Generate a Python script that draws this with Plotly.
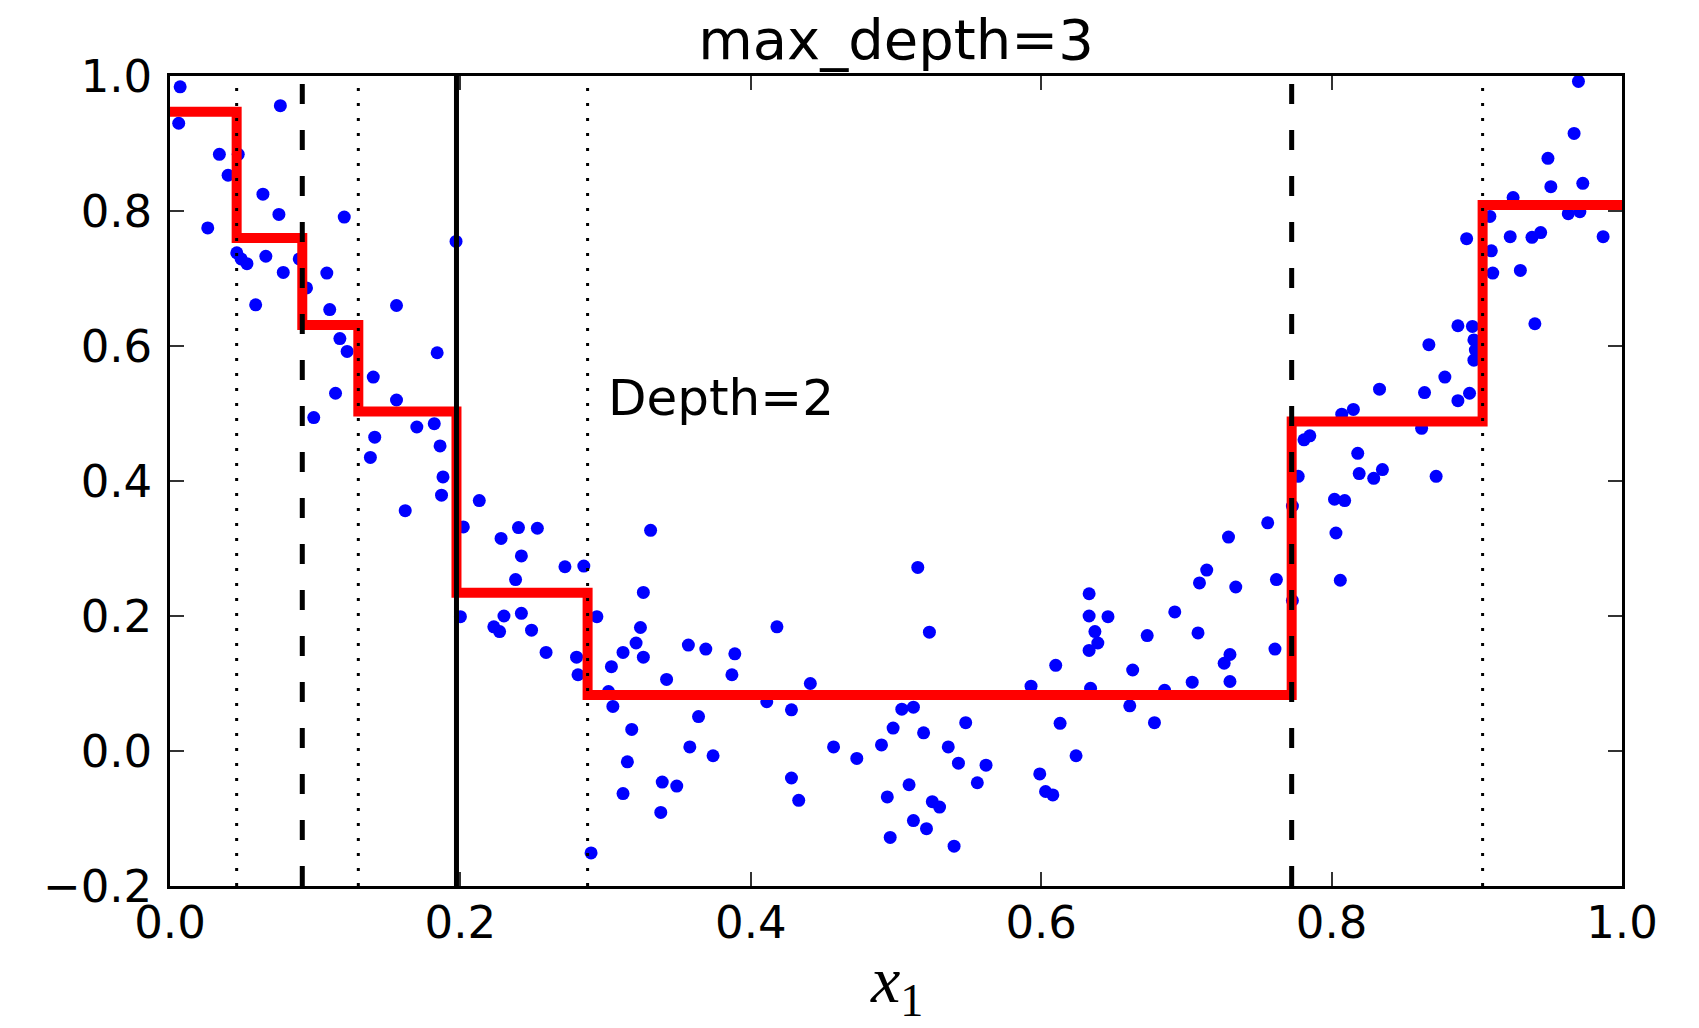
import plotly.graph_objects as go

# ---- data ----
x_pts = [0.007, 0.006, 0.076, 0.034, 0.047, 0.040, 0.064, 0.075, 0.120, 0.026, 0.197, 0.046, 0.049, 0.053,
         0.066, 0.078, 0.089, 0.108, 0.094, 0.059, 0.110, 0.156, 0.117, 0.122, 0.184, 0.140, 0.114, 0.156,
         0.099, 0.170, 0.182, 0.141, 0.186, 0.138, 0.188,
         0.187, 0.162, 0.202, 0.200,
         0.213, 0.240, 0.253, 0.228, 0.242, 0.272, 0.285, 0.238, 0.331, 0.326, 0.230, 0.242, 0.223, 0.227,
         0.249, 0.259, 0.280, 0.281, 0.294, 0.324, 0.321, 0.312, 0.326, 0.304, 0.357, 0.369, 0.389, 0.387,
         0.342, 0.302, 0.305, 0.364, 0.318, 0.358, 0.374, 0.315, 0.339, 0.349, 0.312, 0.338, 0.290,
         0.515, 0.418, 0.523, 0.441, 0.593, 0.411, 0.428, 0.504, 0.512, 0.498, 0.519, 0.548, 0.457, 0.473,
         0.490, 0.536, 0.543, 0.562, 0.599, 0.603, 0.428, 0.433, 0.494, 0.509, 0.556, 0.525, 0.530, 0.512,
         0.521, 0.496, 0.540,
         0.610, 0.608, 0.613, 0.624, 0.633, 0.633, 0.646, 0.637, 0.639, 0.633, 0.634, 0.663, 0.661, 0.673,
         0.678, 0.685, 0.692, 0.704, 0.708, 0.709, 0.714, 0.726, 0.730, 0.730, 0.729, 0.734, 0.756, 0.762,
         0.761, 0.773, 0.773, 0.777, 0.802, 0.803, 0.806,
         0.785, 0.781,
         0.970, 0.967, 0.949, 0.951, 0.973, 0.925, 0.963, 0.971, 0.987, 0.923, 0.938, 0.944, 0.909, 0.893,
         0.910, 0.911, 0.930, 0.940, 0.887, 0.897, 0.898, 0.899, 0.898, 0.867, 0.878, 0.833, 0.864, 0.887,
         0.895, 0.815, 0.807, 0.862, 0.818, 0.819, 0.835, 0.829, 0.872,
         0.809]
y_pts = [0.984, 0.930, 0.956, 0.884, 0.884, 0.853, 0.825, 0.795, 0.791, 0.775, 0.755, 0.738, 0.729, 0.722,
         0.733, 0.709, 0.729, 0.708, 0.686, 0.661, 0.654, 0.660, 0.611, 0.592, 0.590, 0.554, 0.530, 0.520,
         0.494, 0.480, 0.485, 0.465, 0.452, 0.435, 0.406,
         0.379, 0.356, 0.332, 0.199,
         0.371, 0.331, 0.330, 0.315, 0.289, 0.273, 0.274, 0.254, 0.327, 0.235, 0.200, 0.204, 0.184, 0.177,
         0.179, 0.146, 0.139, 0.113, 0.199, 0.183, 0.160, 0.146, 0.139, 0.125, 0.157, 0.151, 0.144, 0.113,
         0.106, 0.088, 0.066, 0.051, 0.032, 0.006, -0.007, -0.016, -0.046, -0.052, -0.063, -0.091, -0.151,
         0.272, 0.184, 0.176, 0.100, 0.096, 0.073, 0.061, 0.062, 0.065, 0.034, 0.027, 0.042, 0.006, -0.011,
         0.009, 0.006, -0.018, -0.021, -0.034, -0.060, -0.040, -0.073, -0.068, -0.050, -0.047, -0.075, -0.083,
         -0.103, -0.115, -0.128, -0.141,
         0.127, -0.065, 0.041, -0.007, 0.233, 0.200, 0.199, 0.177, 0.160, 0.149, 0.093, 0.120, 0.067, 0.171,
         0.042, 0.090, 0.206, 0.102, 0.175, 0.249, 0.268, 0.130, 0.143, 0.103, 0.317, 0.243, 0.338, 0.254,
         0.151, 0.223, 0.363, 0.407, 0.373, 0.323, 0.253,
         0.467, 0.461,
         0.992, 0.915, 0.878, 0.836, 0.841, 0.820, 0.796, 0.799, 0.762, 0.762, 0.761, 0.768, 0.792, 0.759,
         0.741, 0.708, 0.712, 0.633, 0.630, 0.629, 0.609, 0.594, 0.579, 0.602, 0.554, 0.536, 0.531, 0.519,
         0.530, 0.506, 0.499, 0.478, 0.441, 0.411, 0.417, 0.404, 0.407,
         0.371]

# prediction steps (leaf boundaries and leaf values)
step_edges = [0.0, 0.0459, 0.0911, 0.1297, 0.1973, 0.2876, 0.7725, 0.904, 1.0]
step_values = [0.947, 0.760, 0.631, 0.503, 0.2345, 0.083, 0.488, 0.809]

# split thresholds by depth
split_depth0 = [0.1973]
split_depth1 = [0.0911, 0.7725]
split_depth2 = [0.0459, 0.1297, 0.2876, 0.904]

x_ticks = [0.0, 0.2, 0.4, 0.6, 0.8, 1.0]
x_ticktext = ["0.0", "0.2", "0.4", "0.6", "0.8", "1.0"]
y_ticks = [-0.2, 0.0, 0.2, 0.4, 0.6, 0.8, 1.0]
y_ticktext = ["\u22120.2", "0.0", "0.2", "0.4", "0.6", "0.8", "1.0"]

x_range = [0.0, 1.0]
y_range = [-0.2, 1.0]

FONT = "DejaVu Sans"

fig = go.Figure()

fig.add_trace(go.Scatter(x=x_pts, y=y_pts, mode="markers",
                         marker=dict(color="#0000ff", size=13, line=dict(width=0)),
                         showlegend=False, hoverinfo="skip"))

fig.add_trace(go.Scatter(x=step_edges, y=step_values + [step_values[-1]], mode="lines",
                         line=dict(color="#ff0000", width=10, shape="hv"),
                         showlegend=False, hoverinfo="skip"))

def vlines(xs, dash, width):
    for s in xs:
        fig.add_trace(go.Scatter(x=[s, s], y=y_range, mode="lines",
                                 line=dict(color="black", width=width, dash=dash),
                                 showlegend=False, hoverinfo="skip"))

vlines(split_depth0, "solid", 5)
vlines(split_depth1, "20px,26px", 5)
vlines(split_depth2, "3px,12px", 3)

fig.add_annotation(x=0.300, y=0.523, xref="x", yref="y", text="Depth=2", showarrow=False,
                   xanchor="left", yanchor="middle", font=dict(family=FONT, size=50, color="black"))

fig.add_annotation(x=0.5, y=-0.1735, xref="paper", yref="paper", text="<i>x</i><sub>1</sub>",
                   showarrow=False, xanchor="center", yanchor="bottom", borderpad=0,
                   font=dict(family="Liberation Serif", size=66, color="black"))

axis_common = dict(showgrid=False, zeroline=False, showline=True, linecolor="black", linewidth=2.5,
                   mirror="ticks", ticks="inside", ticklen=14, tickwidth=1.5, tickcolor="#333333",
                   tickfont=dict(family=FONT, size=45, color="black"))

fig.update_xaxes(range=x_range, tickvals=x_ticks, ticktext=x_ticktext, ticklabelstandoff=-5, **axis_common)
fig.update_yaxes(range=y_range, tickvals=y_ticks, ticktext=y_ticktext, ticklabelstandoff=6, **axis_common)

# page body has an 8px margin; size and margins compensate for it
fig.update_layout(
    width=1691, height=1020, autosize=False,
    margin=dict(l=162, r=77, t=68, b=142),
    plot_bgcolor="white", paper_bgcolor="white",
    title=dict(text="max_depth=3", x=0.5, xref="paper", y=1 - 31 / 1020, yref="container",
               xanchor="center", yanchor="middle", font=dict(family=FONT, size=56, color="black")),
)

fig.write_html("out.html")
